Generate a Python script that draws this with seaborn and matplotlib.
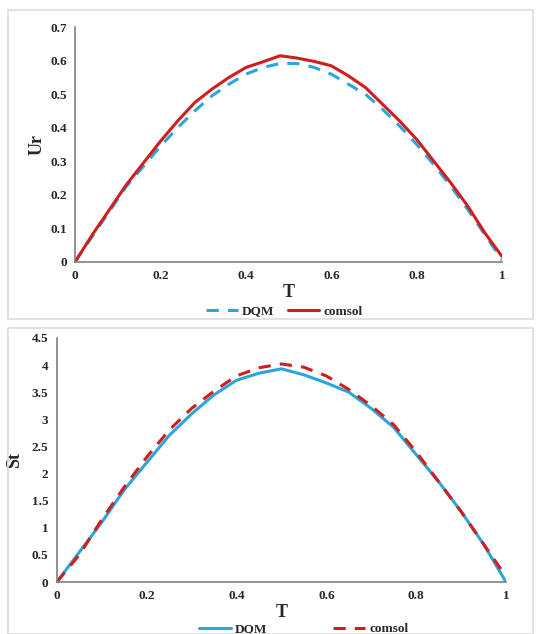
import pandas as pd
import matplotlib.pyplot as plt
import seaborn as sns
from matplotlib.patches import Rectangle

# Top panel: Ur vs T
t_ur = [0, 0.04, 0.08, 0.12, 0.16, 0.20, 0.24, 0.28, 0.32, 0.36, 0.40, 0.44, 0.48,
        0.52, 0.56, 0.60, 0.64, 0.68, 0.72, 0.76, 0.80, 0.84, 0.88, 0.92, 0.96, 1.0]
ur_dqm = [0, 0.075, 0.15, 0.225, 0.285, 0.345, 0.40, 0.45, 0.495, 0.53, 0.56, 0.58, 0.592,
          0.592, 0.58, 0.56, 0.53, 0.50, 0.455, 0.405, 0.35, 0.29, 0.225, 0.155, 0.08, 0.005]
ur_comsol = [0, 0.08, 0.155, 0.23, 0.295, 0.36, 0.42, 0.475, 0.515, 0.55, 0.58, 0.597, 0.615,
             0.608, 0.598, 0.585, 0.555, 0.52, 0.47, 0.42, 0.365, 0.30, 0.235, 0.165, 0.085, 0.015]

# Bottom panel: St vs T
t_st = [0, 0.05, 0.10, 0.15, 0.20, 0.25, 0.30, 0.35, 0.40, 0.45, 0.50,
        0.55, 0.60, 0.65, 0.70, 0.75, 0.80, 0.85, 0.90, 0.95, 1.0]
st_dqm = [0, 0.55, 1.1, 1.7, 2.2, 2.7, 3.1, 3.45, 3.72, 3.85, 3.93,
          3.82, 3.67, 3.5, 3.2, 2.85, 2.35, 1.85, 1.3, 0.7, 0.0]
st_comsol = [0, 0.5, 1.15, 1.75, 2.3, 2.8, 3.2, 3.52, 3.8, 3.95, 4.02,
             3.96, 3.8, 3.55, 3.25, 2.9, 2.4, 1.85, 1.3, 0.7, 0.1]

blue = '#2aa6dc'
red = '#d01e1e'

sns.set_style("white")
plt.rcParams['font.family'] = ['Liberation Serif', 'DejaVu Serif']
plt.rcParams['font.weight'] = 'bold'

fig = plt.figure(figsize=(5.36, 6.34), dpi=100)

# light panel frames
for y0, h in [(0.497, 0.488), (0.0, 0.482)]:
    fig.patches.append(Rectangle((0.015, y0), 0.98, h, transform=fig.transFigure,
                                 fill=False, edgecolor='#dddddd', linewidth=1.2))

ax1 = fig.add_axes([0.140, 0.587, 0.797, 0.370])
ax2 = fig.add_axes([0.106, 0.082, 0.838, 0.385])

df1 = pd.DataFrame({'T': t_ur, 'DQM': ur_dqm, 'comsol': ur_comsol})
sns.lineplot(data=df1, x='T', y='DQM', ax=ax1, color=blue, lw=2.2,
             label='DQM', linestyle=(0, (4, 3)))
sns.lineplot(data=df1, x='T', y='comsol', ax=ax1, color=red, lw=2.2, label='comsol')
ax1.set_xlim(0, 1)
ax1.set_ylim(0, 0.7)
ax1.set_xticks([0, 0.2, 0.4, 0.6, 0.8, 1])
ax1.set_xticklabels(['0', '0.2', '0.4', '0.6', '0.8', '1'])
ax1.set_yticks([0, 0.1, 0.2, 0.3, 0.4, 0.5, 0.6, 0.7])
ax1.set_yticklabels(['0', '0.1', '0.2', '0.3', '0.4', '0.5', '0.6', '0.7'])
ax1.set_xlabel('T', fontsize=13, fontweight='bold', labelpad=1)
ax1.set_ylabel('Ur', fontsize=13, fontweight='bold', labelpad=3)
ax1.legend(loc='upper center', bbox_to_anchor=(0.49, -0.135), ncol=2, frameon=False,
           fontsize=9.5, handlelength=2.4, columnspacing=1.0, handletextpad=0.3)

df2 = pd.DataFrame({'T': t_st, 'DQM': st_dqm, 'comsol': st_comsol})
sns.lineplot(data=df2, x='T', y='DQM', ax=ax2, color=blue, lw=2.2, label='DQM')
sns.lineplot(data=df2, x='T', y='comsol', ax=ax2, color=red, lw=2.2,
             label='comsol', linestyle=(0, (4, 3)))
ax2.set_xlim(0, 1)
ax2.set_ylim(0, 4.5)
ax2.set_xticks([0, 0.2, 0.4, 0.6, 0.8, 1])
ax2.set_xticklabels(['0', '0.2', '0.4', '0.6', '0.8', '1'])
ax2.set_yticks([0, 0.5, 1, 1.5, 2, 2.5, 3, 3.5, 4, 4.5])
ax2.set_yticklabels(['0', '0.5', '1', '1.5', '2', '2.5', '3', '3.5', '4', '4.5'])
ax2.set_xlabel('T', fontsize=13, fontweight='bold', labelpad=1)
ax2.set_ylabel('St', fontsize=13, fontweight='bold', labelpad=6)
ax2.legend(loc='upper center', bbox_to_anchor=(0.55, -0.12), ncol=2, frameon=False,
           fontsize=9.5, handlelength=2.4, columnspacing=5, handletextpad=0.3)

for ax in (ax1, ax2):
    sns.despine(ax=ax)
    for s in ('left', 'bottom'):
        ax.spines[s].set_color('#7f7f7f')
        ax.spines[s].set_linewidth(1.2)
    ax.tick_params(axis='both', length=0, labelsize=9.5, pad=6)
    for lbl in ax.get_xticklabels() + ax.get_yticklabels():
        lbl.set_fontweight('bold')

fig.savefig('out.png', dpi=100)
